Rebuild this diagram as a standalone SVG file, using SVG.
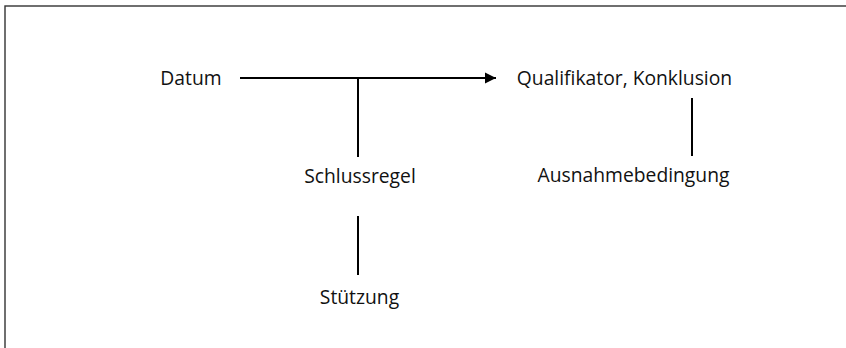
<svg xmlns="http://www.w3.org/2000/svg" width="846" height="348" viewBox="0 0 846 348">
  <style>
    .frame { fill: none; stroke: #333; stroke-width: 1.4; }
    .lbl { font-family: "Open Sans", "Noto Sans", sans-serif; font-size: 19.3px; fill: #111; text-anchor: middle; }
    .con { stroke: #000; stroke-width: 2; fill: none; }
  </style>
  <defs>
    <marker id="arrow" markerUnits="userSpaceOnUse" markerWidth="12" markerHeight="12" refX="11" refY="6" orient="auto">
      <path d="M0,0.5 L11,6 L0,11.5 Z" fill="#000"/>
    </marker>
  </defs>
  <rect class="frame" x="5" y="6" width="860" height="360"/>

  <g id="connectors">
    <line class="con" x1="240" y1="78" x2="496" y2="78" marker-end="url(#arrow)"/>
    <line class="con" x1="358" y1="78" x2="358" y2="157"/>
    <line class="con" x1="358" y1="216" x2="358" y2="275"/>
    <line class="con" x1="692" y1="98" x2="692" y2="156"/>
  </g>

  <g id="datum"><text class="lbl" x="191" y="85">Datum</text></g>
  <g id="konklusion"><text class="lbl" x="624.5" y="85">Qualifikator, Konklusion</text></g>
  <g id="schlussregel"><text class="lbl" x="360" y="183">Schlussregel</text></g>
  <g id="ausnahme"><text class="lbl" x="633.5" y="182">Ausnahmebedingung</text></g>
  <g id="stuetzung"><text class="lbl" x="359.5" y="304">Stützung</text></g>
</svg>
